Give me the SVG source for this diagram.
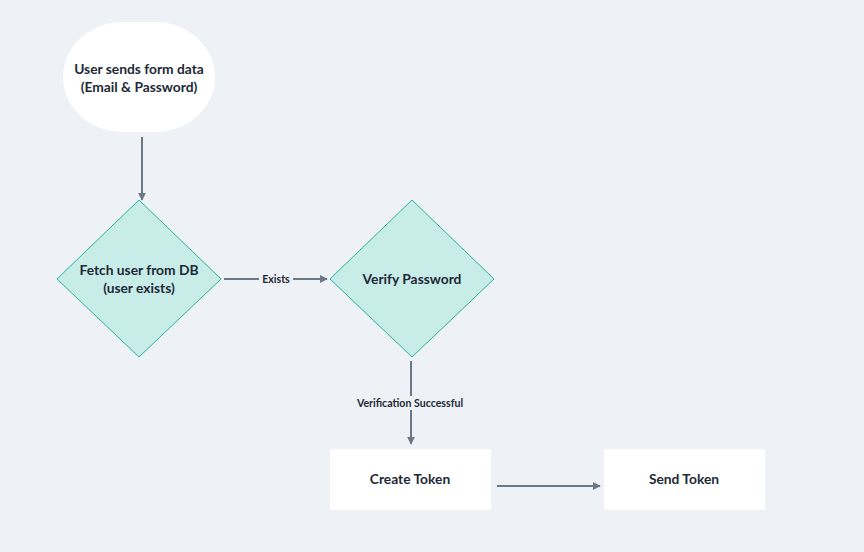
<svg xmlns="http://www.w3.org/2000/svg" width="864" height="552" viewBox="0 0 864 552">
<defs>
<marker id="arr" viewBox="0 0 10 10" refX="9" refY="5" markerWidth="4" markerHeight="4" orient="auto" markerUnits="strokeWidth">
<path d="M0,0 L10,5 L0,10 z" fill="#6b7886"/>
</marker>
<style>
.t{font-family:"Lato","DejaVu Sans",sans-serif;font-weight:700;font-size:13.8px;fill:#1e2936;text-anchor:middle}
.lb{font-family:"Lato","DejaVu Sans",sans-serif;font-weight:700;font-size:10.6px;fill:#1e2936;text-anchor:middle}
.dia{fill:#c8ece8;stroke:#26b39b;stroke-width:1}
.box{fill:#ffffff}
.edge{stroke:#6b7886;stroke-width:2;fill:none;marker-end:url(#arr)}
.lbg{fill:#eef1f5}
</style>
</defs>
<rect width="864" height="552" fill="#eef1f5"/>
<g id="connectors">
<path class="edge" d="M142,137 L142,200"/>
<path class="edge" d="M224,279 L327,279"/>
<rect class="lbg" x="259" y="272" width="34" height="14"/>
<text class="lb" x="276" y="283">Exists</text>
<path class="edge" d="M411,361 L411,444"/>
<rect class="lbg" x="354" y="396" width="114" height="14"/>
<text class="lb" x="410" y="407">Verification Successful</text>
<path class="edge" d="M497,486 L600,486"/>
</g>
<g id="start">
<rect class="box" x="63" y="22" width="152" height="110" rx="60" ry="55"/>
<text class="t" x="139" y="74">User sends form data</text>
<text class="t" x="139" y="92">(Email &amp; Password)</text>
</g>
<g id="fetch">
<polygon class="dia" points="139,200 221,279 139,357 57,279"/>
<text class="t" x="139" y="275">Fetch user from DB</text>
<text class="t" x="139" y="293">(user exists)</text>
</g>
<g id="verify">
<polygon class="dia" points="412,200 494,279 412,357 330,279"/>
<text class="t" x="412" y="284">Verify Password</text>
</g>
<g id="create">
<rect class="box" x="330" y="449" width="161" height="61" rx="2"/>
<text class="t" x="410" y="484">Create Token</text>
</g>
<g id="send">
<rect class="box" x="604" y="449" width="161" height="61" rx="2"/>
<text class="t" x="684" y="484">Send Token</text>
</g>
</svg>
